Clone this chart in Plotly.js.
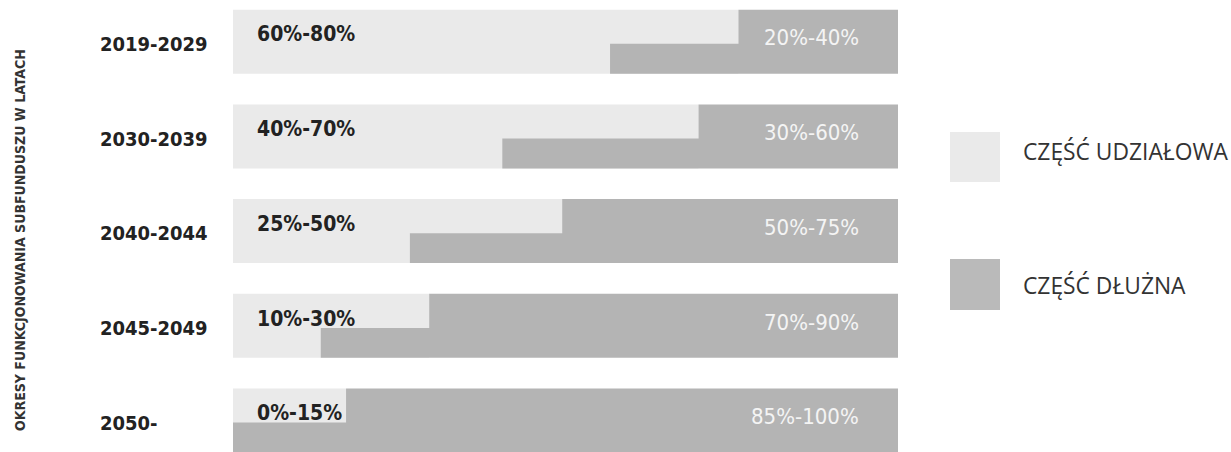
<!DOCTYPE html>
<html>
<head>
<meta charset="utf-8">
<script src="https://cdn.plot.ly/plotly-3.0.1.min.js"></script>
<style>html,body{margin:0;padding:0;background:#fff;}#chart{width:1231px;height:452px;}</style>
</head>
<body>
<div id="chart"></div>
<script>
// Data
const periods = ['2019-2029', '2030-2039', '2040-2044', '2045-2049', '2050-'];
const equityLabels = ['60%-80%', '40%-70%', '25%-50%', '10%-30%', '0%-15%'];
const debtLabels = ['20%-40%', '30%-60%', '50%-75%', '70%-90%', '85%-100%'];
// equity share as drawn in the upper and lower half of each bar (%)
const equityUpper = [76, 70, 49.5, 29.5, 17];
const equityLower = [56.7, 40.5, 26.6, 13.2, 0];
const legendNames = ['CZĘŚĆ UDZIAŁOWA', 'CZĘŚĆ DŁUŻNA'];
const axisTitle = 'OKRESY FUNKCJONOWANIA SUBFUNDUSZU W LATACH';

const LIGHT = '#eaeaea';
const DARK = '#b4b4b4';
const W = 1231, H = 452;
const condensed = '"DejaVu Sans Condensed", "DejaVu Sans", sans-serif';

function bar(x, base, offset, width, color, name) {
  return {
    type: 'bar', orientation: 'h', y: periods, x: x, base: base,
    offset: offset, width: width, name: name,
    marker: {color: color, line: {width: 0}},
    hoverinfo: 'skip', showlegend: false
  };
}

const data = [
  // equity part (upper bound spans full bar height; lower half overdrawn by debt)
  bar(equityUpper, equityUpper.map(() => 0), -0.34, 0.676, LIGHT, legendNames[0]),
  // debt part, lower half
  bar(equityLower.map(v => 100 - v), equityLower, 0.02, 0.316, DARK, legendNames[1]),
  // debt part, upper half
  bar(equityUpper.map(v => 100 - v), equityUpper, -0.34, 0.372, DARK, legendNames[1])
];

const annotations = [];
periods.forEach((p, i) => {
  annotations.push({
    xref: 'paper', yref: 'y', x: 98 / W, y: p, xanchor: 'left', yanchor: 'middle',
    text: p, showarrow: false, yshift: -2,
    font: {family: condensed, size: 20, color: '#222222', weight: 700}
  });
  annotations.push({
    xref: 'x', yref: 'y', x: 0, y: p, xanchor: 'left', yanchor: 'middle',
    xshift: 22, yshift: 7.5,
    text: equityLabels[i], showarrow: false,
    font: {family: condensed, size: 21, color: '#222222', weight: 700}
  });
  annotations.push({
    xref: 'x', yref: 'y', x: 100, y: p, xanchor: 'right', yanchor: 'middle',
    xshift: -37, yshift: 4,
    text: debtLabels[i], showarrow: false,
    font: {family: condensed, size: 22, color: '#f4f4f4', weight: 400}
  });
});

annotations.push({
  xref: 'paper', yref: 'paper', x: 20 / W, y: 1 - 240 / H, xanchor: 'center', yanchor: 'middle',
  text: axisTitle, textangle: -90, showarrow: false,
  font: {family: condensed, size: 14, color: '#333333', weight: 700}
});

const legendSquares = [[132, 182, LIGHT], [259, 310, '#bababa']];
const shapes = legendSquares.map(s => ({
  type: 'rect', xref: 'paper', yref: 'paper',
  x0: 950 / W, x1: 1000 / W, y0: 1 - s[1] / H, y1: 1 - s[0] / H,
  fillcolor: s[2], line: {width: 0}
}));
legendNames.forEach((n, i) => {
  const yc = i === 0 ? 151 : 285;
  annotations.push({
    xref: 'paper', yref: 'paper', x: 1021 / W, y: 1 - yc / H, xanchor: 'left', yanchor: 'middle',
    text: n, showarrow: false,
    font: {family: '"Open Sans", "Noto Sans", sans-serif', size: 22.8, color: '#333333'}
  });
});

const layout = {
  width: W, height: H, autosize: false,
  margin: {l: 0, r: 0, t: 0, b: 0},
  paper_bgcolor: '#ffffff', plot_bgcolor: '#ffffff',
  barmode: 'overlay', showlegend: false,
  xaxis: {domain: [233 / W, 898 / W], range: [0, 100], showgrid: false, zeroline: false,
          showticklabels: false, ticks: '', showline: false, fixedrange: true},
  yaxis: {type: 'category', categoryarray: periods, categoryorder: 'array',
          range: [4.3305, -0.4425], showgrid: false, zeroline: false,
          showticklabels: false, ticks: '', showline: false, fixedrange: true},
  annotations: annotations,
  shapes: shapes
};

Plotly.newPlot('chart', data, layout, {displayModeBar: false, staticPlot: true});
</script>
</body>
</html>
